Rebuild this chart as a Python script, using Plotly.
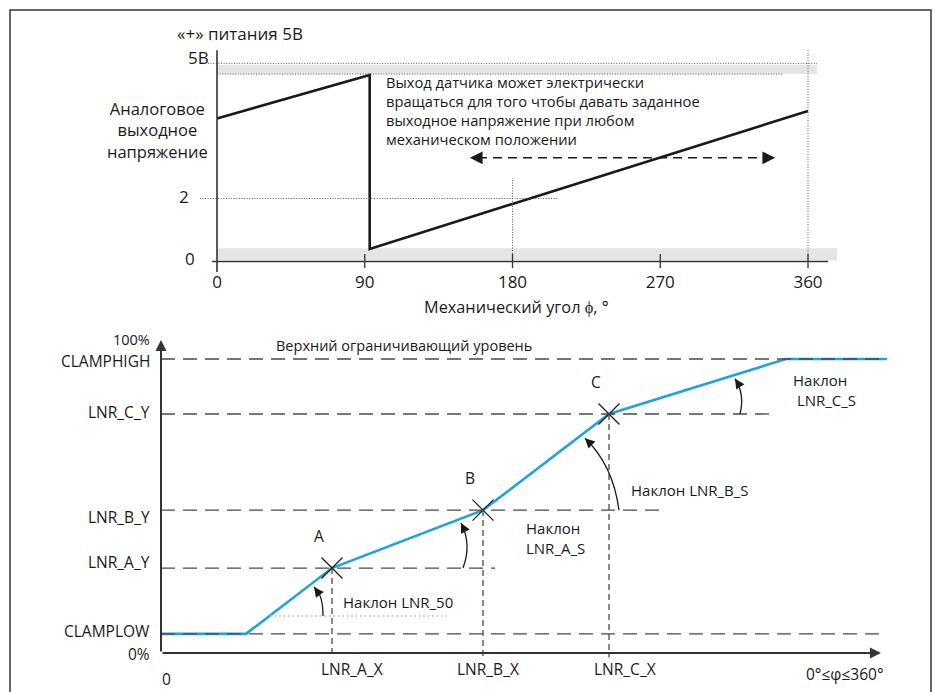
import numpy as np
import plotly.graph_objects as go

W, H = 936, 692
FONT = "Open Sans"
INK = "#1a1a1a"
AXC = "#333333"
DASHC = "#4a4a4a"
BLUE = "#1ea3e0"

# ---------------- top chart: sensor output vs mechanical angle ----------------
ANGLE_TICKS = [0, 90, 180, 270, 360]
LEVEL_TICK_VALS = [0, 2, 6.25]            # schematic level scale, 6.25 marks the 5 V supply
LEVEL_TICK_TEXT = ["0", "2", "5В"]
SIGNAL_ANGLE = [0, 93, 93, 360]
SIGNAL_LEVEL = [4.54, 5.92, 0.40, 4.78]
SUPPLY_LEVEL = 6.25
UPPER_BAND = [5.95, 6.25]
LOWER_BAND = [0.04, 0.42]
REF_LEVEL = 2
REF_ANGLE = 180
FULL_TURN = 360
ROTATE_SPAN = [154, 340]
ROTATE_LEVEL = 3.29

# ---------------- bottom chart: linearisation ----------------
CLAMP_LOW = 6.5
CLAMP_HIGH = 100
CLAMP_LOW_END = 42.5
CLAMP_HIGH_START = 312.5
SWEEP_END = 363
POINT_NAMES = ["A", "B", "C"]
POINT_X = [85.5, 161, 224]
POINT_Y = [28.9, 48.6, 81.3]
X_LABELS = ["LNR_A_X", "LNR_B_X", "LNR_C_X"]
Y_LABELS = ["LNR_A_Y", "LNR_B_Y", "LNR_C_Y"]
SLOPE_REF_LEVEL = 12.6
SLOPE_REF_SPAN = [54.5, 143]

CURVE_X = [0, CLAMP_LOW_END] + POINT_X + [CLAMP_HIGH_START, SWEEP_END]
CURVE_Y = [CLAMP_LOW, CLAMP_LOW] + POINT_Y + [CLAMP_HIGH, CLAMP_HIGH]


def px(x):
    return x / W


def py(y):
    return 1 - y / H


fig = go.Figure()
shapes = []
ann = []


def seg(x0, y0, x1, y1, xr="x", yr="y", color=AXC, width=1.5, dash="solid"):
    shapes.append(dict(type="line", xref=xr, yref=yr, x0=x0, y0=y0, x1=x1, y1=y1,
                       line=dict(color=color, width=width, dash=dash), layer="above"))


def text(x, y, t, xr="paper", yr="paper", xa="center", ya="middle", size=15, align="left", **kw):
    ann.append(dict(xref=xr, yref=yr, x=x, y=y, text=t, xanchor=xa, yanchor=ya, align=align,
                    showarrow=False, font=dict(size=size, color=INK), **kw))


# ---------- top chart ----------
DOT = "1px,1.6px"
shapes.append(dict(type="rect", xref="x", yref="y", x0=0, x1=365.5, y0=UPPER_BAND[0], y1=UPPER_BAND[1],
                   fillcolor="#e5e5e5", line=dict(width=0), layer="below"))
shapes.append(dict(type="rect", xref="x", yref="y", x0=0, x1=377.7, y0=LOWER_BAND[0], y1=LOWER_BAND[1],
                   fillcolor="#e5e5e5", line=dict(width=0), layer="below"))
seg(-5.5, SUPPLY_LEVEL + 0.04, 365.5, SUPPLY_LEVEL + 0.04, color="#555", width=1, dash=DOT)
seg(0, UPPER_BAND[0], 344.8, UPPER_BAND[0], color="#555", width=1, dash=DOT)
seg(-10.4, REF_LEVEL, 207.7, REF_LEVEL, color="#555", width=1, dash=DOT)
seg(REF_ANGLE, 0, REF_ANGLE, 2.65, color="#555", width=1, dash=DOT)
seg(FULL_TURN, 0, FULL_TURN, 6.71, color="#555", width=1, dash=DOT)
seg(-3, 0, 372.2, 0, color=AXC, width=1.6)
seg(0, -0.33, 0, 6.71, color=AXC, width=1.6)
for t in ANGLE_TICKS[1:]:
    seg(t, -0.21, t, 0.24, color=AXC, width=1.3)

fig.add_trace(go.Scatter(x=SIGNAL_ANGLE, y=SIGNAL_LEVEL, mode="lines",
                         line=dict(color=INK, width=2.6), xaxis="x", yaxis="y",
                         hoverinfo="skip", showlegend=False))

# dashed double arrow
seg(ROTATE_SPAN[0] + 5, ROTATE_LEVEL, ROTATE_SPAN[1] - 5, ROTATE_LEVEL, color=INK, width=1.5, dash="9px,6px")
for xa, off in [(ROTATE_SPAN[0], 14), (ROTATE_SPAN[1], -14)]:
    ann.append(dict(xref="x", yref="y", x=xa, y=ROTATE_LEVEL, ax=off, ay=0, text="",
                    showarrow=True, arrowhead=2, arrowsize=1.7, arrowwidth=1.5, arrowcolor=INK))

# top y tick labels (placed beside their levels)
for val, lab, xc, ys in zip(LEVEL_TICK_VALS, LEVEL_TICK_TEXT, [190, 184, 198], [3, 2, 7]):
    text(px(xc), val, lab, "paper", "y", size=17, yshift=ys)

text(px(240), py(33), "«+» питания 5В", size=17)
text(px(157), py(130), "Аналоговое<br>выходное<br>напряжение", align="center", size=16.5)
text(px(384), py(110.5),
     "Выход датчика может электрически<br>вращаться для того чтобы давать заданное"
     "<br>выходное напряжение при любом<br>механическом положении", xa="left", size=14.7)
text(px(516), py(307), "Механический угол ϕ, °", size=16.3)

# ---------- bottom chart ----------
LD = "14px,8px"
seg(0, CLAMP_HIGH, SWEEP_END, CLAMP_HIGH, "x2", "y2", DASHC, 1.3, LD)
seg(0, CLAMP_LOW, SWEEP_END, CLAMP_LOW, "x2", "y2", DASHC, 1.3, LD)
GUIDE_EXT = [81.5, 88.5, 83]
for xv, yv, ext in zip(POINT_X, POINT_Y, GUIDE_EXT):
    seg(0, yv, xv + ext, yv, "x2", "y2", DASHC, 1.3, LD)
    seg(xv, yv, xv, -1.5, "x2", "y2", DASHC, 1.3, "6px,4px")
seg(SLOPE_REF_SPAN[0], SLOPE_REF_LEVEL, SLOPE_REF_SPAN[1], SLOPE_REF_LEVEL, "x2", "y2", "#c4c4c4", 1.6, "2px,2.5px")

fig.add_trace(go.Scatter(x=CURVE_X, y=CURVE_Y, mode="lines", line=dict(color=BLUE, width=2.6),
                         xaxis="x2", yaxis="y2", hoverinfo="skip", showlegend=False))
fig.add_trace(go.Scatter(x=POINT_X, y=POINT_Y, mode="markers",
                         marker=dict(symbol="x-thin", size=21, line=dict(color=INK, width=1.2)),
                         xaxis="x2", yaxis="y2", hoverinfo="skip", showlegend=False))

# axis arrows
ann.append(dict(xref="x2", yref="y2", axref="x2", ayref="y2", x=360, y=0, ax=0, ay=0, text="",
                showarrow=True, arrowhead=2, arrowsize=1.1, arrowwidth=2, arrowcolor=AXC))
ann.append(dict(xref="x2", yref="y2", axref="x2", ayref="y2", x=0, y=106.5, ax=0, ay=0, text="",
                showarrow=True, arrowhead=2, arrowsize=1.1, arrowwidth=2, arrowcolor=AXC))

# slope arcs
curve = lambda x: float(np.interp(x, CURVE_X, CURVE_Y))
ARCS = [
    # start (x, level), control, end x on curve, offset below curve, tail offset px
    ((81, SLOPE_REF_LEVEL), (81, 20), 76.5, 1.8, (6, 8)),
    ((151, POINT_Y[0]), (155.5, 37), 150, 1.5, (4.5, 9)),
    ((229, POINT_Y[1]), (226, 64), 212, 2.0, (7, 7)),
    ((289.5, POINT_Y[2]), (292, 88), 287, 1.3, (5.5, 8.5)),
]
for (x0, y0), (cx, cy), xe, drop, (tx, ty) in ARCS:
    ye = curve(xe) - drop
    shapes.append(dict(type="path", xref="x2", yref="y2",
                       path=f"M {x0},{y0} Q {cx},{cy} {xe},{ye}",
                       line=dict(color=INK, width=1.3), layer="above"))
    ann.append(dict(xref="x2", yref="y2", x=xe, y=ye, ax=tx, ay=ty, text="", showarrow=True,
                    arrowhead=2, arrowsize=1.5, arrowwidth=1.3, arrowcolor=INK))

# bottom y labels beside their levels
Y_VALS = [0, CLAMP_LOW] + POINT_Y + [CLAMP_HIGH]
Y_TEXT = ["0%", "CLAMPLOW"] + Y_LABELS + ["CLAMPHIGH"]
Y_SHIFT = [-1, 3, 6, -7, 2, -2]
for val, lab, ys in zip(Y_VALS, Y_TEXT, Y_SHIFT):
    text(px(152), val, lab, "paper", "y2", xa="right", size=15.5, yshift=ys)
text(px(152), py(339), "100%", xa="right", size=14.5)

for name, xv, yv in zip(POINT_NAMES, POINT_X, POINT_Y):
    text(xv - 6.5, yv + 11, name, "x2", "y2", size=15.5)
for lab, xv, xs in zip(X_LABELS, POINT_X, [20, 5, 16]):
    text(xv, 0, lab, "x2", "y2", size=15.5, xshift=xs, yshift=-16)

text(90, 17.3, "Наклон LNR_50", "x2", "y2", xa="left", size=15)
text(181.5, 39.1, "Наклон<br>LNR_A_S", "x2", "y2", xa="left", size=15)
text(234, 55.4, "Наклон LNR_B_S", "x2", "y2", xa="left", size=15)
text(315, 89.5, "Наклон<br> LNR_C_S", "x2", "y2", xa="left", size=15)

text(px(274), py(345), "Верхний ограничивающий уровень", xa="left", size=14.5)
text(px(166), py(679), "0", size=15.5)
text(px(845), py(674), "0°≤φ≤360°", size=15.5)

# frame
shapes.append(dict(type="rect", xref="paper", yref="paper", x0=px(10), x1=px(931), y0=-0.05, y1=py(10),
                   line=dict(color=AXC, width=1.5), layer="below"))

fig.update_layout(
    width=W, height=H, margin=dict(l=0, r=0, t=0, b=0),
    paper_bgcolor="white", plot_bgcolor="white",
    font=dict(family=FONT, color=INK),
    showlegend=False, shapes=shapes, annotations=ann,
    xaxis=dict(domain=[0, 1], range=[-132.18, 437.96], anchor="free", position=py(261.5),
               showgrid=False, zeroline=False, showline=False, ticks="",
               tickvals=ANGLE_TICKS, ticktext=[str(a) for a in ANGLE_TICKS],
               tickfont=dict(size=17, color=INK), ticklabelstandoff=8, fixedrange=True),
    yaxis=dict(domain=[py(320), 1], range=[-1.857, 8.3016], anchor="free", position=px(217),
               showgrid=False, zeroline=False, showline=False, ticks="",
               showticklabels=False, fixedrange=True),
    xaxis2=dict(domain=[0, 1], range=[-80.5, 387.5], anchor="free", position=py(653),
                showgrid=False, zeroline=False, showline=False, showticklabels=False, ticks="",
                fixedrange=True),
    yaxis2=dict(domain=[0, py(330)], range=[-13.265, 109.864], anchor="free", position=px(161),
                showgrid=False, zeroline=False, showline=False, ticks="",
                showticklabels=False, fixedrange=True),
)

fig.write_html("out.html", config={"displayModeBar": False, "staticPlot": True})
with open("out.html", encoding="utf-8") as fh:
    html = fh.read()
html = html.replace("<head>", "<head><style>html,body{margin:0;padding:0;overflow:hidden}</style>", 1)
with open("out.html", "w", encoding="utf-8") as fh:
    fh.write(html)
